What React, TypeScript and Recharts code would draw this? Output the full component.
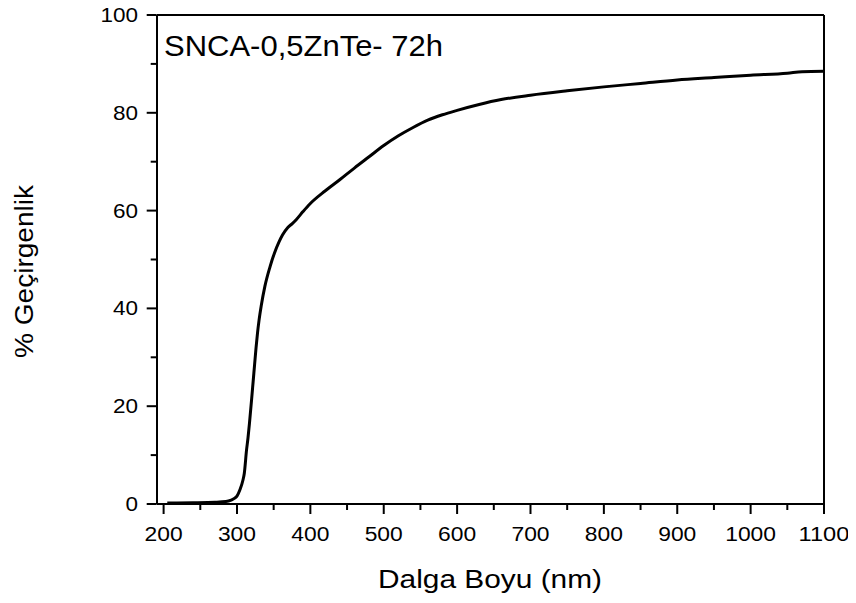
import React from 'react';
import { LineChart, XAxis, YAxis, Line, ReferenceLine, Label } from 'recharts';

const wavelength = [
  205, 240, 270, 285, 292, 297, 300, 304, 308, 310, 313, 315, 317, 320, 322, 324, 326, 328, 330, 333, 338,
  345, 351, 357, 362, 369, 375, 381, 390, 399, 420, 440, 460, 480, 500, 520, 540, 560, 580, 600, 630,
  660, 700, 750, 800, 850, 900, 950, 1000, 1050, 1070, 1100,
];
const transmittance = [
  0.2, 0.25, 0.35, 0.5, 0.8, 1.2, 1.6, 2.9, 4.8, 6.3, 11, 13.5, 16.5, 21.5, 25, 28.5, 32, 35, 37.5, 40.5, 44.5,
  48.5, 51.3, 53.5, 55, 56.5, 57.3, 58.2, 59.8, 61.3, 64, 66.3, 68.7, 71, 73.3, 75.3, 77, 78.5, 79.6, 80.5, 81.7,
  82.7, 83.6, 84.5, 85.3, 86, 86.7, 87.2, 87.7, 88.1, 88.4, 88.5,
];
const xTicks = [200, 250, 300, 350, 400, 450, 500, 550, 600, 650, 700, 750, 800, 850, 900, 950, 1000, 1050, 1100];
const yTicks = [0, 10, 20, 30, 40, 50, 60, 70, 80, 90, 100];

const title = 'SNCA-0,5ZnTe- 72h';
const xTitle = 'Dalga Boyu (nm)';
const yTitle = '% Geçirgenlik';

const data = wavelength.map((w, i) => ({ w, t: transmittance[i] }));

const FONT = '"Liberation Sans", Arial, sans-serif';
const PLOT_LEFT = 148.7;
const PLOT_BOTTOM = 501;

const XTick = (props: any) => {
  const { x, payload } = props;
  const v = payload.value;
  const major = v % 100 === 0;
  const s = String(v);
  return (
    <g>
      <line x1={x} x2={x} y1={PLOT_BOTTOM} y2={PLOT_BOTTOM + (major ? 10 : 6)} stroke="#000" strokeWidth={2} />
      {major && (
        <text
          x={x}
          y={PLOT_BOTTOM + 37}
          textAnchor="middle"
          fontFamily={FONT}
          fontSize={20}
          fill="#000"
          textLength={s.length * 12.7}
          lengthAdjust="spacingAndGlyphs"
        >
          {s}
        </text>
      )}
    </g>
  );
};

const YTick = (props: any) => {
  const { y, payload } = props;
  const v = payload.value;
  const major = v % 20 === 0;
  const s = String(v);
  return (
    <g>
      <line x1={PLOT_LEFT - (major ? 10 : 6)} x2={PLOT_LEFT} y1={y} y2={y} stroke="#000" strokeWidth={2} />
      {major && (
        <text
          x={130}
          y={y + 7}
          textAnchor="end"
          fontFamily={FONT}
          fontSize={20}
          fill="#000"
          textLength={s.length * 12.5}
          lengthAdjust="spacingAndGlyphs"
        >
          {s}
        </text>
      )}
    </g>
  );
};

export default function App() {
  return (
    <div style={{ marginTop: -5 }}>
      <LineChart width={840} height={592} data={data} margin={{ top: 12, right: 24, left: 0, bottom: 0 }}>
        <XAxis
          dataKey="w"
          type="number"
          domain={[191, 1100]}
          ticks={xTicks}
          interval={0}
          tick={<XTick />}
          tickLine={false}
          axisLine={{ stroke: '#000', strokeWidth: 2 }}
          height={91}
          allowDataOverflow
        >
          <Label
            content={() => (
              <text
                x={482}
                y={585}
                textAnchor="middle"
                fontFamily={FONT}
                fontSize={25}
                fill="#000"
                textLength={224}
                lengthAdjust="spacingAndGlyphs"
              >
                {xTitle}
              </text>
            )}
          />
        </XAxis>
        <YAxis
          type="number"
          domain={[0, 100]}
          ticks={yTicks}
          interval={0}
          tick={<YTick />}
          tickLine={false}
          axisLine={{ stroke: '#000', strokeWidth: 2 }}
          width={149}
          allowDataOverflow
        >
          <Label
            content={() => (
              <text
                x={25}
                y={268.5}
                transform="rotate(-90 25 268.5)"
                textAnchor="middle"
                fontFamily={FONT}
                fontSize={25}
                fill="#000"
                textLength={173}
                lengthAdjust="spacingAndGlyphs"
              >
                {yTitle}
              </text>
            )}
          />
        </YAxis>
        <ReferenceLine y={100} stroke="#000" strokeWidth={2} />
        <ReferenceLine x={1100} stroke="#000" strokeWidth={2}>
          <Label
            content={() => (
              <text
                x={156}
                y={53}
                fontFamily={FONT}
                fontSize={29}
                fill="#000"
                textLength={279}
                lengthAdjust="spacingAndGlyphs"
              >
                {title}
              </text>
            )}
          />
        </ReferenceLine>
        <Line
          type="monotone"
          dataKey="t"
          stroke="#000"
          strokeWidth={3}
          dot={false}
          isAnimationActive={false}
        />
      </LineChart>
    </div>
  );
}
